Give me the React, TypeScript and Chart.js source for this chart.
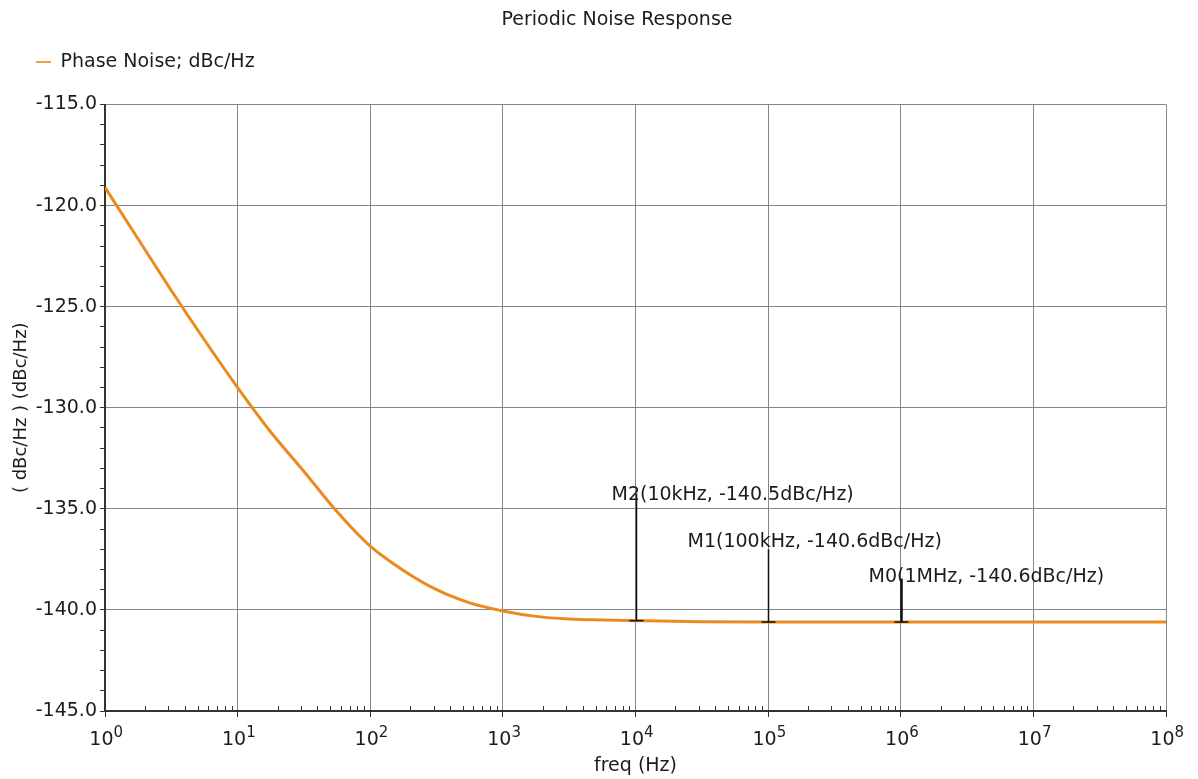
import React, { useEffect, useRef } from "react";
import { Chart, registerables } from "chart.js";

Chart.register(...registerables);

// ---------- data ----------
const freqHz = [
  1, 1.778, 3.162, 5.623, 10, 17.78, 31.62, 56.23, 100, 177.8, 316.2, 562.3,
  1000, 1778, 3162, 5623, 10000, 31623, 100000, 1000000, 10000000, 100000000,
];
const phaseNoise = [
  -119.1, -121.65, -124.2, -126.65, -129.0, -131.2, -133.15, -135.15, -136.85,
  -138.05, -139.0, -139.65, -140.05, -140.32, -140.45, -140.5, -140.53, -140.58,
  -140.6, -140.6, -140.6, -140.6,
];

const markerFreqs = [10000, 100000, 1000000];
const markerValues = [-140.53, -140.6, -140.6];
const markerLabels = [
  "M2(10kHz, -140.5dBc/Hz)",
  "M1(100kHz, -140.6dBc/Hz)",
  "M0(1MHz, -140.6dBc/Hz)",
];

const yMajorTicks = [-145, -140, -135, -130, -125, -120, -115];
const xDecades = [1, 10, 100, 1000, 10000, 100000, 1000000, 10000000, 100000000];
const xDecadeExponents = ["0", "1", "2", "3", "4", "5", "6", "7", "8"];
const xMinorMultipliers = [2, 3, 4, 5, 6, 7, 8, 9];

const titleText = "Periodic Noise Response";
const seriesName = "Phase Noise; dBc/Hz";
const xTitle = "freq (Hz)";
const yTitle = "( dBc/Hz ) (dBc/Hz)";

// ---------- styles ----------
const FONT = '"DejaVu Sans", sans-serif';
const TEXT = "#1c1c1c";
const GRID = "#858585";
const AXIS = "#333333";
const CURVE = "#eb8a1e";
const CLEAR = "rgba(0,0,0,0)";

// marker label placement (styling, data-space levels and pixel offsets)
const markerLabelLevels = [-134.31, -136.64, -138.37];
const markerLineTops = [-134.25, -137.0, -138.45];
const markerLabelDx = [-25, -81, -33];
const markerLineWidths = [1.5, 1.5, 2.5];

const isDecade = (v: number) => {
  const l = Math.log10(v);
  return Math.abs(l - Math.round(l)) < 1e-9;
};

const yAllTicks: number[] = [];
for (let v = yMajorTicks[0]; v <= yMajorTicks[yMajorTicks.length - 1]; v += 1) yAllTicks.push(v);
const xMinorValues: number[] = [];
xDecades.slice(0, -1).forEach((d) => xMinorMultipliers.forEach((m) => xMinorValues.push(d * m)));
const xAllTicks = [...xDecades, ...xMinorValues].sort((a, b) => a - b);

const markerPlugin = {
  id: "markerPlugin",
  afterDatasetsDraw(chart: any) {
    const { ctx, scales } = chart;
    const x = scales.x;
    const y = scales.y;
    ctx.save();
    markerFreqs.forEach((f, i) => {
      const px = Math.round(x.getPixelForValue(f)) + 0.5;
      const py = y.getPixelForValue(markerValues[i]);
      const top = y.getPixelForValue(markerLineTops[i]);
      ctx.strokeStyle = "#111";
      ctx.lineWidth = markerLineWidths[i];
      ctx.beginPath();
      ctx.moveTo(px, py);
      ctx.lineTo(px, top);
      ctx.stroke();
      ctx.lineWidth = 1.5;
      ctx.beginPath();
      ctx.moveTo(px - 7, py);
      ctx.lineTo(px + 7, py);
      ctx.stroke();
      ctx.font = `19px ${FONT}`;
      ctx.fillStyle = TEXT;
      ctx.textAlign = "left";
      ctx.textBaseline = "middle";
      ctx.fillText(markerLabels[i], px + markerLabelDx[i], y.getPixelForValue(markerLabelLevels[i]));
    });
    ctx.restore();
  },
};

const axisDecorPlugin = {
  id: "axisDecor",
  afterDraw(chart: any) {
    const { ctx, chartArea, scales } = chart;
    const x = scales.x;
    ctx.save();
    ctx.strokeStyle = AXIS;
    ctx.lineWidth = 1;
    xMinorValues.forEach((v) => {
      const px = Math.round(x.getPixelForValue(v)) + 0.5;
      ctx.beginPath();
      ctx.moveTo(px, chartArea.bottom);
      ctx.lineTo(px, chartArea.bottom - 5);
      ctx.stroke();
    });
    ctx.fillStyle = TEXT;
    ctx.textBaseline = "alphabetic";
    xDecades.forEach((v, i) => {
      const px = x.getPixelForValue(v);
      ctx.font = `19px ${FONT}`;
      ctx.textAlign = "right";
      ctx.fillText("10", px + 8.5, chartArea.bottom + 34);
      ctx.font = `15px ${FONT}`;
      ctx.textAlign = "left";
      ctx.fillText(xDecadeExponents[i], px + 8.5, chartArea.bottom + 26);
    });
    ctx.restore();
  },
};

export default function App() {
  const canvasRef = useRef<HTMLCanvasElement | null>(null);

  useEffect(() => {
    if (!canvasRef.current) return;
    Chart.defaults.font.family = FONT;
    Chart.defaults.color = TEXT;
    const chart = new Chart(canvasRef.current, {
      type: "line",
      data: {
        datasets: [
          {
            label: seriesName,
            data: freqHz.map((f, i) => ({ x: f, y: phaseNoise[i] })),
            borderColor: CURVE,
            backgroundColor: CURVE,
            borderWidth: 3,
            pointRadius: 0,
            cubicInterpolationMode: "monotone",
          },
        ],
      },
      options: {
        responsive: false,
        animation: false,
        layout: { padding: { left: 36, right: 0, top: 0, bottom: 0 } },
        plugins: {
          title: {
            display: true,
            text: titleText,
            color: TEXT,
            font: { family: FONT, size: 19, weight: "normal" },
            padding: { top: 8.6, bottom: 21.1 },
          },
          legend: {
            display: true,
            position: "top",
            align: "start",
            labels: {
              color: TEXT,
              font: { family: FONT, size: 19 },
              boxWidth: 15,
              boxHeight: 2,
              padding: 0,
              generateLabels: (c: any) =>
                Chart.defaults.plugins.legend.labels.generateLabels(c).map((l: any) => ({
                  ...l,
                  fillStyle: "#efa24a",
                  strokeStyle: CLEAR,
                  lineWidth: 0,
                })),
            },
          },
          tooltip: { enabled: false },
        },
        scales: {
          x: {
            type: "logarithmic",
            position: "bottom",
            min: 1,
            max: 100000000,
            afterBuildTicks: (s: any) => {
              s.ticks = xAllTicks.map((v) => ({ value: v, major: isDecade(v) }));
            },
            ticks: { display: false },
            grid: {
              color: (c: any) => (c.tick && isDecade(c.tick.value) ? GRID : CLEAR),
              tickColor: (c: any) => (c.tick && isDecade(c.tick.value) ? AXIS : CLEAR),
              tickLength: 6,
              drawTicks: true,
              lineWidth: 1,
            },
            border: { color: AXIS, width: 2 },
            title: {
              display: true,
              text: xTitle,
              color: TEXT,
              font: { family: FONT, size: 19 },
              padding: { top: 0, bottom: 2 },
            },
            afterFit: (s: any) => {
              s.height = 68;
            },
          },
          topPad: {
            type: "linear",
            axis: "x",
            position: "top",
            display: true,
            grid: { display: false, drawTicks: false },
            ticks: { display: false },
            border: { display: false },
            afterFit: (s: any) => {
              s.height = 23;
            },
          },
          y: {
            type: "linear",
            position: "left",
            min: -145,
            max: -115,
            afterBuildTicks: (s: any) => {
              s.ticks = yAllTicks.map((v) => ({ value: v }));
            },
            ticks: {
              autoSkip: false,
              color: TEXT,
              font: { family: FONT, size: 19 },
              padding: 3,
              callback: (v: any) => (yMajorTicks.includes(Number(v)) ? Number(v).toFixed(1) : ""),
            },
            grid: {
              color: (c: any) => (c.tick && yMajorTicks.includes(c.tick.value) ? GRID : CLEAR),
              tickColor: AXIS,
              tickLength: 5,
              drawTicks: true,
              lineWidth: 1,
            },
            border: { color: AXIS, width: 2 },
            title: {
              display: true,
              text: yTitle,
              color: TEXT,
              font: { family: FONT, size: 18 },
              padding: { top: -25, bottom: 0 },
            },
            afterFit: (s: any) => {
              s.width = 69;
            },
          },
          rightPad: {
            type: "linear",
            axis: "y",
            position: "right",
            display: true,
            grid: { display: false, drawTicks: false },
            ticks: { display: false },
            border: { display: false },
            afterFit: (s: any) => {
              s.width = 32;
            },
          },
        },
      } as any,
      plugins: [markerPlugin, axisDecorPlugin],
    });
    return () => chart.destroy();
  }, []);

  return (
    <div style={{ position: "absolute", left: 0, top: 0, width: 1198, height: 779, background: "#fff" }}>
      <canvas ref={canvasRef} width={1198} height={779} />
    </div>
  );
}
